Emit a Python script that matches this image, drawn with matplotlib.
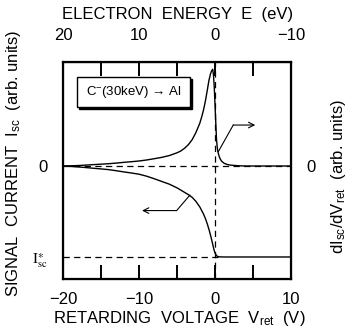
import numpy as np
import matplotlib
matplotlib.use("Agg")
import matplotlib.pyplot as plt
from matplotlib.patches import Rectangle

plt.rcParams['font.family'] = ['Liberation Sans', 'DejaVu Sans']
plt.rcParams['mathtext.fontset'] = 'custom'
plt.rcParams['mathtext.rm'] = 'Liberation Sans'
plt.rcParams['mathtext.it'] = 'Liberation Sans:italic'

# retarding voltage (V) and derivative dIsc/dVret (arb. units)
v_deriv = [-20, -19, -18, -17, -16, -15, -14, -13, -12, -11, -10, -9, -8, -7,
           -6, -5, -4.5, -4, -3.5, -3, -2.5, -2, -1.75, -1.5, -1.25, -1.0,
           -0.8, -0.6, -0.45, -0.3, -0.2, -0.1, 0.0, 0.1, 0.2, 0.3, 0.4, 0.55,
           0.7, 0.9, 1.2, 1.6, 2.0, 3.0, 4.0, 10.0]
deriv = [0.0, 0.002, 0.005, 0.01, 0.015, 0.02, 0.025, 0.032, 0.04, 0.047,
         0.055, 0.066, 0.08, 0.095, 0.115, 0.145, 0.165, 0.195, 0.235, 0.29,
         0.37, 0.47, 0.54, 0.62, 0.72, 0.84, 0.94, 1.01, 1.045, 1.063, 1.0,
         0.87, 0.68, 0.48, 0.29, 0.2, 0.15, 0.105, 0.075, 0.05, 0.03, 0.017,
         0.01, 0.003, 0.0, 0.0]

# signal current Isc (arb. units, Isc* = -1)
v_isc = [-20, -19, -18, -17, -16, -15, -14, -13, -12, -11, -10, -9, -8, -7,
         -6, -5, -4.5, -4, -3.5, -3, -2.5, -2, -1.75, -1.5, -1.25, -1.0,
         -0.75, -0.5, -0.3, -0.15, 0.0, 0.15, 0.3, 0.5, 1.0, 10.0]
isc = [0.0, -0.005, -0.01, -0.017, -0.025, -0.032, -0.04, -0.052, -0.065,
       -0.077, -0.09, -0.112, -0.14, -0.17, -0.2, -0.24, -0.265, -0.29,
       -0.315, -0.345, -0.39, -0.45, -0.49, -0.53, -0.58, -0.64, -0.71,
       -0.79, -0.86, -0.915, -0.955, -0.98, -0.992, -0.998, -1.0, -1.0]

isc_star = -1.0

fig = plt.figure(figsize=(3.47, 3.29), dpi=100)
ax = fig.add_axes([63/347, 1-279/329, 228/347, 217/329])

ax.plot(v_deriv, deriv, color='k', lw=1.0)
ax.plot(v_isc, isc, color='k', lw=1.0)

dash = (0, (5, 3.5))
ax.axhline(0, color='k', lw=0.9, linestyle=dash)
ax.axvline(0, color='k', lw=0.9, linestyle=dash)
ax.plot([-20, 0.4], [isc_star, isc_star], color='k', lw=0.9, linestyle=dash)

# arrows pointing to the axes
ax.plot([0.43, 2.4], [0.157, 0.45], color='k', lw=0.8)
ax.annotate('', xy=(5.3, 0.45), xytext=(2.4, 0.45),
            arrowprops=dict(arrowstyle='->', lw=0.8, color='k', mutation_scale=10,
                            shrinkA=0, shrinkB=0))
ax.plot([-3.3, -5.05], [-0.32, -0.49], color='k', lw=0.8)
ax.annotate('', xy=(-9.6, -0.49), xytext=(-5.05, -0.49),
            arrowprops=dict(arrowstyle='->', lw=0.8, color='k', mutation_scale=10,
                            shrinkA=0, shrinkB=0))

# label box with a small shadow
ax.add_patch(Rectangle((-17.9, 0.625), 14.9, 0.33, facecolor='k', edgecolor='k', lw=1.0, zorder=3))
ax.add_patch(Rectangle((-18.16, 0.648), 14.87, 0.33, facecolor='white', edgecolor='k', lw=1.0, zorder=4))
ax.text(-10.7, 0.81, 'C$^{-}$(30keV) \u2192 Al', fontsize=9.5, ha='center', va='center', zorder=5)

ax.set_xlim(-20, 10)
ax.set_ylim(-1.242, 1.143)

ax.set_xticks([-20, -15, -10, -5, 0, 5, 10])
ax.set_xticklabels(['\u221220', '', '\u221210', '', '0', '', '10'], fontsize=12)
ax.tick_params(axis='x', direction='in', length=10, width=1.4, pad=9)
ax.set_yticks([isc_star, 0])
ax.set_yticklabels([r'$\mathrm{I}^{\ast}_{\mathrm{sc}}$', '0'], fontsize=12)
ax.get_yticklabels()[0].set_math_fontfamily('stix')
ax.get_yticklabels()[0].set_fontsize(11)
ax.tick_params(axis='y', length=0, pad=11)

for s in ax.spines.values():
    s.set_linewidth(1.6)

axr = ax.twinx()
axr.set_ylim(ax.get_ylim())
axr.set_yticks([0])
axr.set_yticklabels(['0'], fontsize=12)
axr.tick_params(axis='y', length=0, pad=11)

axt = ax.secondary_xaxis('top', functions=(lambda v: -v, lambda e: -e))
axt.set_xticks([20, 15, 10, 5, 0, -5, -10])
axt.set_xticklabels(['20', '', '10', '', '0', '', '\u221210'], fontsize=12)
axt.tick_params(axis='x', direction='in', length=10, width=1.4, pad=14)

fig.text(179/347, 1-318/329, r'RETARDING  VOLTAGE  V$_{\mathrm{ret}}$  (V)',
         fontsize=12, ha='center', va='center')
fig.text(178/347, 1-14/329, 'ELECTRON  ENERGY  E  (eV)',
         fontsize=12, ha='center', va='center')
fig.text(14/347, 1-163/329, r'SIGNAL  CURRENT  I$_{\mathrm{sc}}$  (arb. units)',
         fontsize=12, ha='center', va='center', rotation=90)
fig.text(338/347, 1-177/329, r'dI$_{\mathrm{sc}}$/dV$_{\mathrm{ret}}$  (arb. units)',
         fontsize=12, ha='center', va='center', rotation=90)

fig.savefig('out.png', dpi=100)
